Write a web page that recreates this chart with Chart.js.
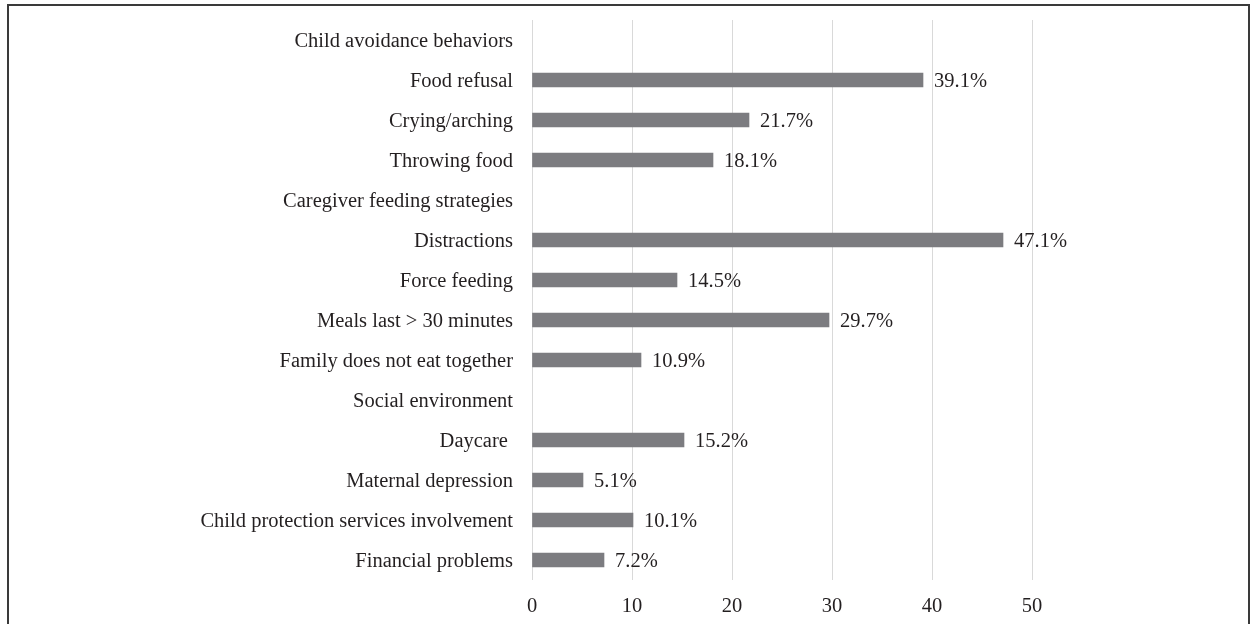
<!DOCTYPE html>
<html>
<head>
<meta charset="utf-8">
<script src="https://cdn.jsdelivr.net/npm/chart.js@4"></script>
<style>
  html, body { margin: 0; padding: 0; background: #ffffff; }
  #wrap { width: 1251px; height: 624px; position: relative; }
</style>
</head>
<body>
<div id="wrap"><canvas id="c" width="1251" height="624"></canvas></div>
<script>
const categories = [
  "Child avoidance behaviors",
  "Food refusal",
  "Crying/arching",
  "Throwing food",
  "Caregiver feeding strategies",
  "Distractions",
  "Force feeding",
  "Meals last > 30 minutes",
  "Family does not eat together",
  "Social environment",
  "Daycare ",
  "Maternal depression",
  "Child protection services involvement",
  "Financial problems"
];
const percentValues = [null, 39.1, 21.7, 18.1, null, 47.1, 14.5, 29.7, 10.9, null, 15.2, 5.1, 10.1, 7.2];
const xTicks = [0, 10, 20, 30, 40, 50];

const FONT = "'Liberation Serif', 'Times New Roman', serif";
const TEXT = '#231f20';

const frame = {
  id: 'frame',
  afterDraw(chart) {
    const ctx = chart.ctx;
    ctx.save();
    ctx.fillStyle = '#3a3a3a';
    ctx.fillRect(7, 4, 2, 640);
    ctx.fillRect(7, 4, 1243, 2);
    ctx.fillRect(1248, 4, 2, 640);
    ctx.restore();
  }
};

const valueLabels = {
  id: 'valueLabels',
  afterDatasetsDraw(chart) {
    const ctx = chart.ctx;
    const meta = chart.getDatasetMeta(0);
    ctx.save();
    ctx.font = "20.5px " + FONT;
    ctx.fillStyle = TEXT;
    ctx.textAlign = 'left';
    ctx.textBaseline = 'middle';
    meta.data.forEach((bar, i) => {
      const v = percentValues[i];
      if (v === null || v === undefined) return;
      ctx.fillText(v.toFixed(1) + '%', bar.x + 11, bar.y + 2);
    });
    ctx.restore();
  }
};

new Chart(document.getElementById('c'), {
  type: 'bar',
  data: {
    labels: categories,
    datasets: [{
      data: percentValues,
      backgroundColor: '#7c7c80',
      borderWidth: 0,
      barThickness: 14
    }]
  },
  options: {
    indexAxis: 'y',
    responsive: false,
    animation: false,
    devicePixelRatio: 1,
    layout: { padding: { top: 20, right: 219, bottom: 0, left: 0 } },
    plugins: {
      legend: { display: false },
      tooltip: { enabled: false },
      title: { display: false }
    },
    scales: {
      x: {
        type: 'linear',
        min: 0,
        max: 50,
        afterBuildTicks(scale) { scale.ticks = xTicks.map(v => ({ value: v })); },
        afterFit(scale) { scale.height = 44; scale.paddingLeft = 0; scale.paddingRight = 0; },
        grid: { color: '#d9d9d9', lineWidth: 1, drawTicks: false },
        border: { display: false },
        ticks: {
          padding: 14,
          color: TEXT,
          font: { family: FONT, size: 20.5 }
        }
      },
      y: {
        afterFit(scale) { scale.width = 532; scale.paddingTop = 0; scale.paddingBottom = 0; },
        grid: { display: false, drawTicks: false },
        border: { display: false },
        ticks: {
          padding: 19,
          labelOffset: 2,
          color: TEXT,
          autoSkip: false,
          font: { family: FONT, size: 20.5 }
        }
      }
    }
  },
  plugins: [frame, valueLabels]
});
</script>
</body>
</html>
